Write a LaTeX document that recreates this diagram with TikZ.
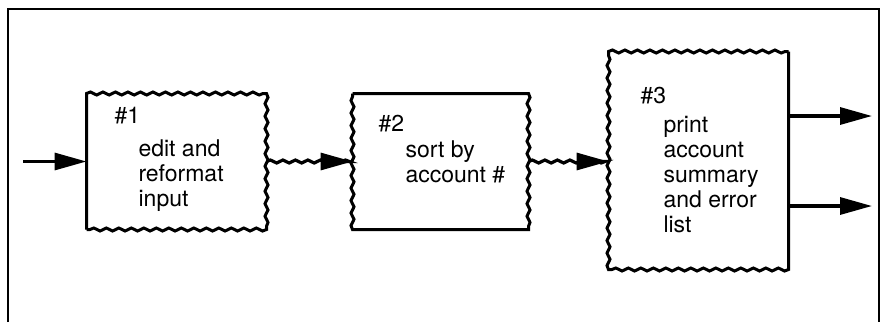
\documentclass[tikz,border=0pt]{standalone}
\usepackage{fontspec}
\setmainfont{TeX Gyre Heros}
\usetikzlibrary{arrows.meta,decorations.pathmorphing}

\begin{document}
\begin{tikzpicture}[x=1pt,y=-1pt,line width=3pt,
    every node/.style={font=\fontsize{23}{25}\selectfont,align=left,inner sep=0pt},
    wavy/.style={decorate,decoration={snake,amplitude=1.5pt,segment length=12.5pt}},
    flow/.style={-{Triangle[length=32pt,width=17pt]},line width=3.2pt}]
    \useasboundingbox (0,0) rectangle (881,322);
    % frame
    \draw[line width=2.2pt] (8,322) -- (8,9) -- (879,9) -- (879,322);
    % boxes
    \node[minimum width=177pt,minimum height=133pt] (b1) at (176.5,161.5) {};
    \node[minimum width=173pt,minimum height=133pt] (b2) at (440.5,161.5) {};
    \node[minimum width=177pt,minimum height=215pt] (b3) at (698.5,160.5) {};
    \draw (b1.south west) -- (b1.north west) decorate[wavy]{-- (b1.north east)} decorate[wavy]{-- (b1.south east)} decorate[wavy]{-- (b1.south west)};
    \draw (b2.north west) -- (b2.north east) decorate[wavy]{-- (b2.south east)} -- (b2.south west) decorate[wavy]{-- (b2.north west)};
    \draw (b3.north east) -- (b3.south east) decorate[wavy]{-- (b3.south west)} decorate[wavy]{-- (b3.north west)} decorate[wavy]{-- (b3.north east)};
    % texts
    \node[anchor=base west] (n1) at (113,123) {\#1};
    \node[anchor=base west] (t1) at (137,206) {edit and\\reformat\\input};
    \node[anchor=base west] (n2) at (377,131) {\#2};
    \node[anchor=base west] (t2) at (404,182) {sort by\\account \#};
    \node[anchor=base west] (n3) at (639,103) {\#3};
    \node[anchor=base west] (t3) at (662,232) {print\\account\\summary\\and error\\list};
    % connectors
    \coordinate (in) at (23,161.5);
    \coordinate (o1) at (872,116);
    \coordinate (o2) at (872,206);
    \draw[flow] (in) -- (b1.west);
    \draw[flow,decorate,decoration={snake,amplitude=1.5pt,segment length=12.5pt,post length=2pt}] (b1.east) -- (b2.west);
    \draw[flow,decorate,decoration={snake,amplitude=1.5pt,segment length=12.5pt,post length=2pt}] (b2.east) -- (b2.east -| b3.west);
    \draw[flow] (b3.east |- o1) -- (o1);
    \draw[flow] (b3.east |- o2) -- (o2);
  \end{tikzpicture}
\end{document}
